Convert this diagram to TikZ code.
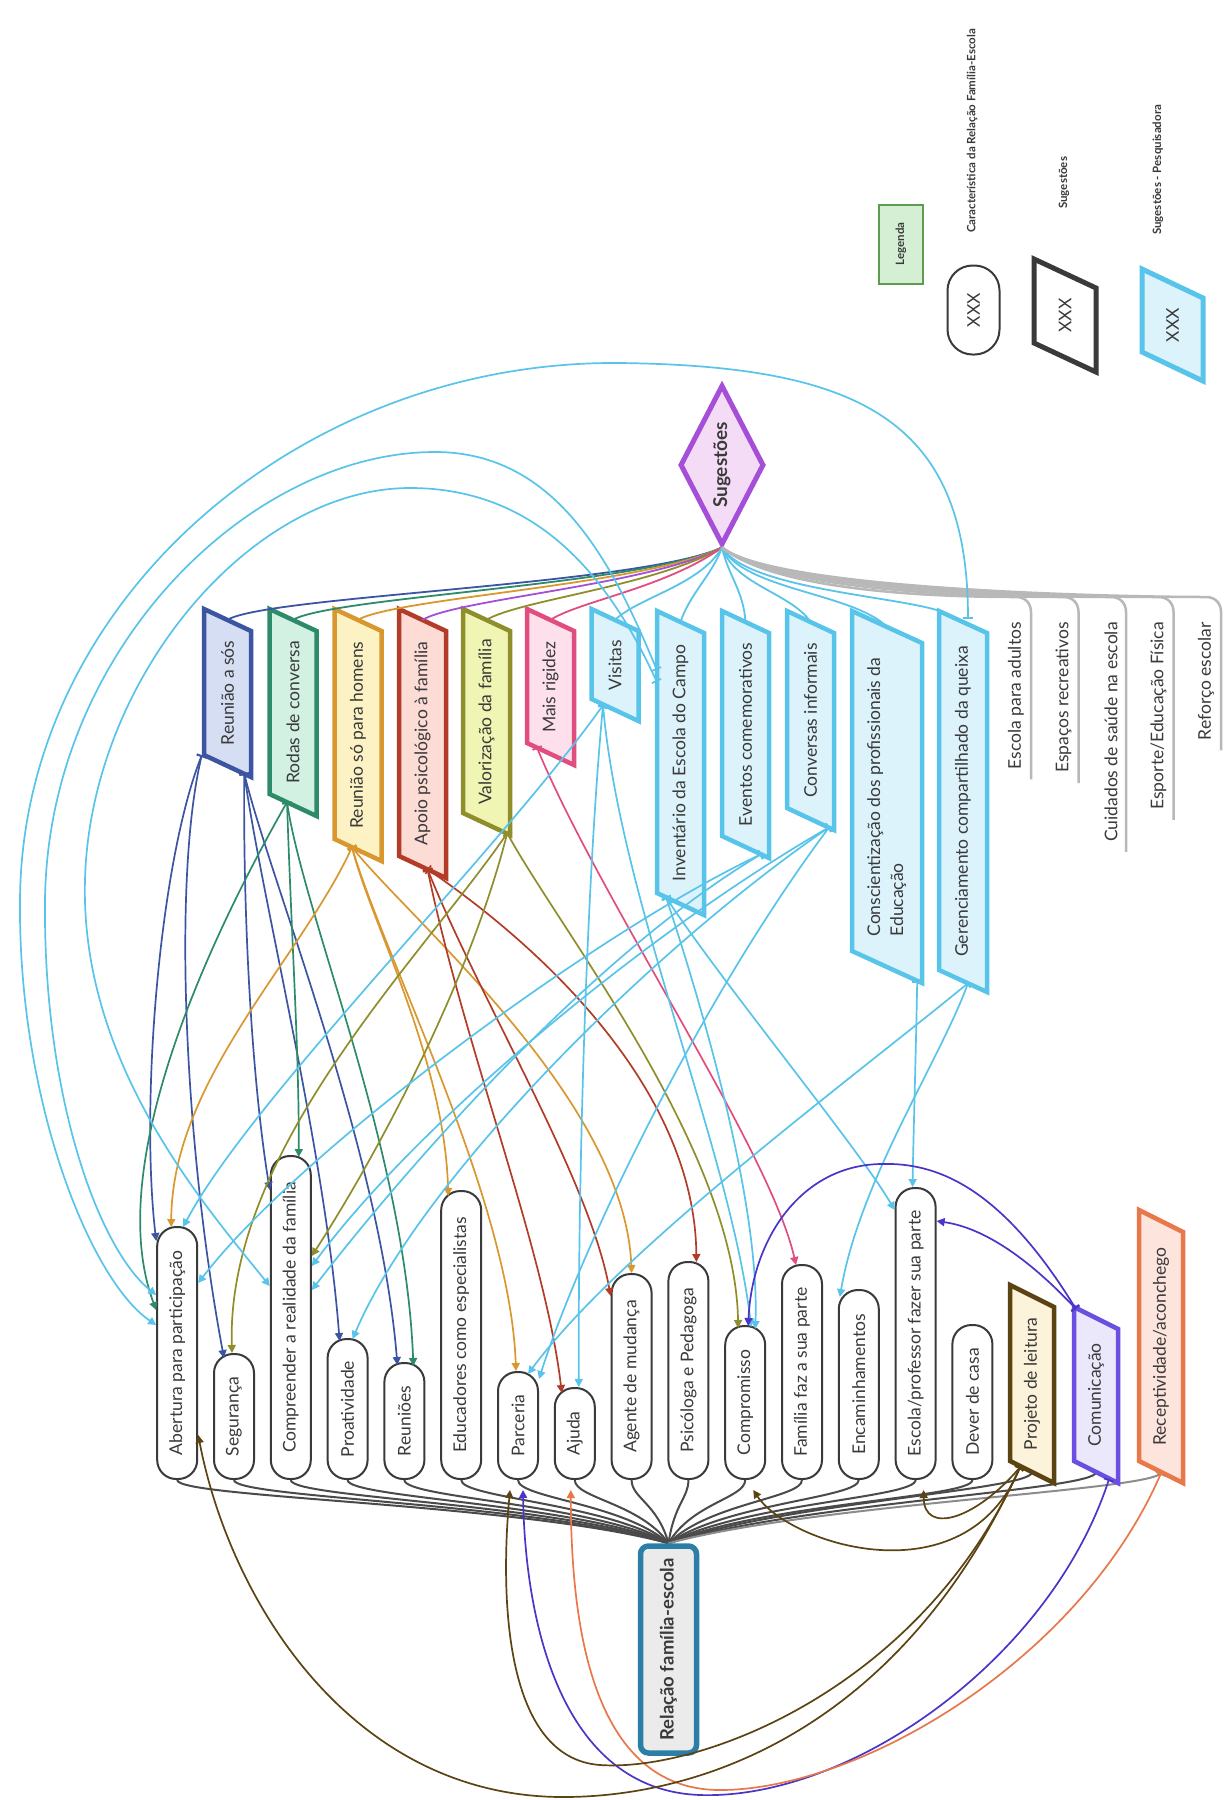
\documentclass[tikz,border=0pt]{standalone}
\usepackage{fontspec}
\setmainfont{Lato}
\usepackage{graphicx}
\usetikzlibrary{arrows.meta,calc,shapes.geometric}
\pgfdeclarelayer{bg}
\pgfsetlayers{bg,main}

\definecolor{cInk}{HTML}{3A3A3A}
\definecolor{cTree}{HTML}{4A4A4A}
\definecolor{cTreeLight}{HTML}{8C8C8C}
\definecolor{cSilver}{HTML}{B8B8B8}
\definecolor{cNavy}{HTML}{3B55A3}\definecolor{fNavy}{HTML}{D6DEF4}
\definecolor{cGreen}{HTML}{2E8B6A}\definecolor{fGreen}{HTML}{D2F1E3}
\definecolor{cAmber}{HTML}{D9982F}\definecolor{fAmber}{HTML}{FDF2C4}
\definecolor{cRust}{HTML}{B23C28}\definecolor{fRust}{HTML}{FCDCD5}
\definecolor{cOlive}{HTML}{8E8E2C}\definecolor{fOlive}{HTML}{F1F5B4}
\definecolor{cPink}{HTML}{E24D80}\definecolor{fPink}{HTML}{FDE0EB}
\definecolor{cSky}{HTML}{58C4EA}\definecolor{fSky}{HTML}{DDF3FC}
\definecolor{cBrown}{HTML}{5B4312}\definecolor{fBrown}{HTML}{FDF2DA}
\definecolor{cIndigo}{HTML}{6A4FE0}\definecolor{fIndigo}{HTML}{ECE8FC}
\definecolor{cPurple}{HTML}{4B35C8}
\definecolor{cCoral}{HTML}{E8774A}\definecolor{fCoral}{HTML}{FDE5DD}
\definecolor{cViolet}{HTML}{A54ED8}\definecolor{fViolet}{HTML}{F4DCF7}
\definecolor{cTeal}{HTML}{2B7EA6}\definecolor{fGrey}{HTML}{EBEBEB}
\definecolor{cLeaf}{HTML}{5D9B4F}\definecolor{fLeaf}{HTML}{D5EFD5}

% rounded characteristic node standing on the common base line
\newcommand\pill[4]{%
  \node[pill, minimum height={1480pt-#3pt}, anchor=south] (#1) at (#2,1480) {\rotatebox{90}{#4}};}
% slanted box: name, centre x, top, bottom, width, skew, colours, text
\newcommand\slab[8]{%
  \draw[line width=4.5pt, line join=miter, #7] ({#2-#5/2},#3) -- ({#2+#5/2},{#3+#6}) -- ({#2+#5/2},#4) -- ({#2-#5/2},{#4-#6}) -- cycle;
  \node[slabtxt, minimum width=#5pt, minimum height={#4pt-#3pt}] (#1) at ({#2},{(#3+#4)/2}) {\rotatebox{90}{#8}};}
% branch of the central tree
\newcommand\branch[2][cTree]{%
  \draw[tree, draw=#1] (#2) .. controls +(0,18) and ($(relacao.north)!0.3!(#2 |- relacao.north)+(0,-40)$) .. (relacao.north);}
% grey suggestion with its underline
\newcommand\grayitem[3]{%
  \node[plain, anchor=north] (#1) at (#2,622) {\rotatebox{90}{#3}};
  \draw[grayln] (sug.south) .. controls (775,590) and ($(#1.north)+(-90,-25)$) .. ($(#1.north)+(0,-25)$) .. controls +(10,0) and +(0,-8) .. ($(#1.north)+(15,-10)$) -- ($(#1.south)+(15,10)$);}

\begin{document}
\begin{tikzpicture}[x=1pt,y=-1pt,
  every node/.style={text=cInk},
  pill/.style={draw=cInk, line width=2pt, fill=white, rounded corners=19pt, minimum width=40pt, inner sep=0pt, font=\fontsize{17.5}{20}\selectfont},
  slabtxt/.style={inner sep=0pt, font=\fontsize{17.5}{23}\selectfont},
  plain/.style={inner sep=0pt, font=\fontsize{17.5}{20}\selectfont},
  legtxt/.style={inner sep=0pt, font=\bfseries\fontsize{11.5}{14}\selectfont},
  tree/.style={line width=2pt},
  slink/.style={line width=1.8pt, draw=#1},
  grayln/.style={line width=2.5pt, draw=cSilver},
  rel/.style={line width=1.7pt, draw=#1, {Bar[width=10pt]}-{Triangle[length=8pt,width=8pt]}},
]
\begin{pgfonlayer}{bg}
\fill[white] (0,0) rectangle (1224,1800);
\end{pgfonlayer}
\useasboundingbox (0,0) rectangle (1224,1800);

% ---------- central node ----------
\node[draw=cTeal, line width=5.5pt, fill=fGrey, rounded corners=8pt, minimum width=56pt, minimum height=207pt, inner sep=0pt,
      font=\bfseries\fontsize{18.5}{22}\selectfont] (relacao) at (668.5,1649.5) {\rotatebox{90}{Relação família-escola}};

% ---------- characteristics ----------
\pill{abertura}{177.2}{1228}{Abertura para participação}
\pill{seguranca}{234}{1355}{Segurança}
\pill{compreender}{290.8}{1157}{Compreender a realidade da família}
\pill{proatividade}{347.6}{1340}{Proatividade}
\pill{reunioes}{404.4}{1364}{Reuniões}
\pill{educadores}{461.2}{1192}{Educadores como especialistas}
\pill{parceria}{518}{1373}{Parceria}
\pill{ajuda}{574.8}{1389}{Ajuda}
\pill{agente}{631.6}{1275}{Agente de mudança}
\pill{psicologa}{688.4}{1263}{Psicóloga e Pedagoga}
\pill{compromisso}{745.2}{1327}{Compromisso}
\pill{familia}{802}{1266}{Família faz a sua parte}
\pill{encaminhamentos}{858.8}{1291}{Encaminhamentos}
\pill{escola}{915.6}{1189}{Escola/professor fazer sua parte}
\pill{dever}{972.4}{1326}{Dever de casa}
\slab{projeto}{1032}{1285}{1483}{44}{22}{draw=cBrown, fill=fBrown}{Projeto de leitura}
\slab{comunicacao}{1096}{1307}{1483}{44}{22}{draw=cIndigo, fill=fIndigo}{Comunicação}
\slab{receptividade}{1161}{1210}{1483}{44}{22}{draw=cCoral, fill=fCoral}{Receptividade/aconchego}

\coordinate (projeto-b) at ($(projeto.south)+(0,-11)$);
\coordinate (comunicacao-b) at ($(comunicacao.south)+(0,-11)$);
\coordinate (receptividade-b) at ($(receptividade.south)+(0,-11)$);

\begin{pgfonlayer}{bg}
\branch{abertura.south}
\branch{seguranca.south}
\branch{compreender.south}
\branch{proatividade.south}
\branch{reunioes.south}
\branch{educadores.south}
\branch{parceria.south}
\branch{ajuda.south}
\branch{agente.south}
\branch{psicologa.south}
\branch{compromisso.south}
\branch{familia.south}
\branch{encaminhamentos.south}
\branch{escola.south}
\branch{dever.south}
\branch{projeto-b}
\branch{comunicacao-b}
\branch[cTreeLight]{receptividade-b}
\end{pgfonlayer}

% ---------- suggestions ----------
\node[diamond, aspect=0.54, draw=cViolet, line width=5pt, fill=fViolet, minimum width=84pt, minimum height=160pt, inner sep=0pt,
      font=\bfseries\fontsize{19}{22}\selectfont] (sug) at (722,465) {\rotatebox{90}{Sugestões}};

\slab{reuniaososs}{227.5}{609}{777}{47}{22}{draw=cNavy, fill=fNavy}{Reunião a sós}
\slab{rodas}{293}{609}{816}{47}{22}{draw=cGreen, fill=fGreen}{Rodas de conversa}
\slab{homens}{358}{609}{861}{47}{22}{draw=cAmber, fill=fAmber}{Reunião só para homens}
\slab{apoio}{422.5}{609}{878}{47}{22}{draw=cRust, fill=fRust}{Apoio psicológico à família}
\slab{valorizacao}{486.5}{609}{835}{47}{22}{draw=cOlive, fill=fOlive}{Valorização da família}
\slab{rigidez}{550.5}{609}{765}{47}{22}{draw=cPink, fill=fPink}{Mais rigidez}
\slab{visitas}{615}{609}{721}{47}{22}{draw=cSky, fill=fSky}{Visitas}
\slab{inventario}{680.5}{611}{915}{47}{22}{draw=cSky, fill=fSky}{Inventário da Escola do Campo}
\slab{eventos}{745.5}{611}{858}{47}{22}{draw=cSky, fill=fSky}{Eventos comemorativos}
\slab{conversas}{810.5}{611}{830}{47}{22}{draw=cSky, fill=fSky}{Conversas informais}
\slab{conscientizacao}{887}{611}{983}{70}{32}{draw=cSky, fill=fSky}{\begin{tabular}{@{}l@{}}Conscientização dos profissionais da\\Educação\end{tabular}}
\slab{gerenciamento}{963}{611}{992}{48}{22}{draw=cSky, fill=fSky}{Gerenciamento compartilhado da queixa}

\draw[slink=cNavy] (sug.south) .. controls (640,585) and ($(reuniaososs.north)+(40,-13)$) .. ($(reuniaososs.north)+(0,11)$);
\draw[slink=cGreen] (sug.south) .. controls (640,585) and ($(rodas.north)+(40,-12)$) .. ($(rodas.north)+(0,11)$);
\draw[slink=cAmber] (sug.south) .. controls (645,585) and ($(homens.north)+(38,-11)$) .. ($(homens.north)+(0,11)$);
\draw[slink=cViolet] (sug.south) .. controls (650,585) and ($(apoio.north)+(36,-10)$) .. ($(apoio.north)+(0,11)$);
\draw[slink=cOlive] (sug.south) .. controls (655,586) and ($(valorizacao.north)+(34,-9)$) .. ($(valorizacao.north)+(0,11)$);
\draw[slink=cPink] (sug.south) .. controls (665,588) and ($(rigidez.north)+(30,-8)$) .. ($(rigidez.north)+(0,11)$);
\draw[slink=cSky] (sug.south) .. controls (700,585) and ($(visitas.north)+(25,-12)$) .. ($(visitas.north)+(0,11)$);
\draw[slink=cSky] (sug.south) .. controls (712,575) and ($(inventario.north)+(10,-18)$) .. ($(inventario.north)+(0,11)$);
\draw[slink=cSky] (sug.south) .. controls (728,575) and ($(eventos.north)+(-2,-20)$) .. ($(eventos.north)+(0,11)$);
\draw[slink=cSky] (sug.south) .. controls (735,585) and ($(conversas.north)+(-20,-18)$) .. ($(conversas.north)+(0,11)$);
\draw[slink=cSky] (sug.south) .. controls (745,590) and ($(conscientizacao.north)+(-35,-18)$) .. ($(conscientizacao.north)+(0,16)$);
\draw[slink=cSky] (sug.south) .. controls (750,592) and ($(gerenciamento.north)+(-45,-14)$) .. ($(gerenciamento.north)+(-14,4)$);

\grayitem{adultos}{1016}{Escola para adultos}
\grayitem{recreativos}{1063.5}{Espaços recreativos}
\grayitem{saude}{1111}{Cuidados de saúde na escola}
\grayitem{esporte}{1158.5}{Esporte/Educação Física}
\grayitem{reforco}{1206}{Reforço escolar}

% ---------- legend ----------
\node[draw=cLeaf, fill=fLeaf, line width=2pt, minimum width=44pt, minimum height=79pt, inner sep=0pt,
      font=\bfseries\fontsize{11.5}{13}\selectfont] (legenda) at (901,244) {\rotatebox{90}{Legenda}};
\node[pill, rounded corners=25pt, minimum width=52pt, minimum height=89pt] (legpill) at (973.5,310) {\rotatebox{90}{XXX}};
\slab{legsug}{1065}{259}{372}{62}{29}{draw=cInk, fill=white, line width=5pt}{XXX}
\slab{legpes}{1172.5}{269}{381}{61}{29}{draw=cSky, fill=fSky, line width=5pt}{XXX}
\node[legtxt, anchor=south] (leg-a) at (972,233) {\rotatebox{90}{Característica da Relação Família-Escola}};
\node[legtxt, anchor=south] (leg-b) at (1064,209) {\rotatebox{90}{Sugestões}};
\node[legtxt, anchor=south] (leg-c) at (1158,235) {\rotatebox{90}{Sugestões - Pesquisadora}};

% ---------- relation start points ----------
\coordinate (ras-l) at ($(reuniaososs.south west)+(-2,-22)$);
\coordinate (ras-r) at ($(reuniaososs.south east)+(-7,-4)$);
\coordinate (rd) at ($(rodas.south)+(-6,-14)$);
\coordinate (hm) at ($(homens.south)+(-6,-14)$);
\coordinate (ap) at ($(apoio.south)+(5,-9)$);
\coordinate (va) at ($(valorizacao.south east)+(-3,-2)$);
\coordinate (mr) at ($(rigidez.south west)+(10,-18)$);
\coordinate (vi) at ($(visitas.south)+(-12,-16)$);
\coordinate (iv-a) at ($(inventario.north west)+(0,59)$);
\coordinate (iv-b) at ($(inventario.north west)+(0,71)$);
\coordinate (iv) at ($(inventario.south)+(-14.5,-18)$);
\coordinate (ev) at ($(eventos.south east)+(-8,-4)$);
\coordinate (cv) at ($(conversas.south east)+(-5,-3)$);
\coordinate (cs) at ($(conscientizacao.south east)+(-5,-2)$);
\coordinate (gr) at ($(gerenciamento.south)+(5,-9)$);
\coordinate (gr-t) at ($(gerenciamento.north)+(5,8)$);
\coordinate (cm-t) at ($(comunicacao.north west)+(2,2)$);
\coordinate (cm-b) at ($(comunicacao.south)+(13,-4)$);
\coordinate (rc-b) at ($(receptividade.south)+(0,-10)$);
\coordinate (pj-b) at ($(projeto.south)+(-12,-16)$);

% Reunião a sós
\draw[rel=cNavy] (ras-l) .. controls (160,860) and (140,1100) .. ($(abertura.north west)+(0,15)$);
\draw[rel=cNavy] (ras-l) .. controls (172,880) and (185,1150) .. ($(seguranca.north)+(-10,5)$);
\draw[rel=cNavy] (ras-r) .. controls (243,950) and (255,1100) .. ($(compreender.north west)+(0,35)$);
\draw[rel=cNavy] (ras-r) .. controls (262,900) and (325,1150) .. ($(proatividade.north)+(-8,3)$);
\draw[rel=cNavy] (ras-r) .. controls (270,880) and (380,1150) .. ($(reunioes.north)+(-7,3)$);
% Rodas de conversa
\draw[rel=cGreen] (rd) .. controls (292,950) and (299,1050) .. ($(compreender.north)+(8,2)$);
\draw[rel=cGreen] (rd) .. controls (220,920) and (100,1160) .. ($(abertura.north west)+(0,84)$);
\draw[rel=cGreen] (rd) .. controls (305,920) and (405,1150) .. ($(reunioes.north)+(9,4)$);
% Reunião só para homens
\draw[rel=cAmber] (hm) .. controls (300,960) and (172,1080) .. ($(abertura.north)+(-6,1)$);
\draw[rel=cAmber] (hm) .. controls (370,920) and (445,1060) .. ($(educadores.north)+(-13,6)$);
\draw[rel=cAmber] (hm) .. controls (385,960) and (510,1200) .. ($(parceria.north)+(-2,0)$);
\draw[rel=cAmber] (hm) .. controls (410,920) and (625,1100) .. (agente.north);
% Apoio psicológico
\draw[rel=cRust] (ap) .. controls (465,1050) and (545,1250) .. ($(ajuda.north)+(-13,6)$);
\draw[rel=cRust] (ap) .. controls (480,1000) and (590,1180) .. ($(agente.north west)+(0,23)$);
\draw[rel=cRust] (ap) .. controls (560,960) and (695,1100) .. ($(psicologa.north)+(8,1)$);
% Valorização da família
\draw[rel=cOlive] (va) .. controls (420,960) and (226,1150) .. ($(seguranca.north)+(-2,0)$);
\draw[rel=cOlive] (va) .. controls (470,980) and (380,1150) .. ($(compreender.north east)+(0,101)$);
\draw[rel=cOlive] (va) .. controls (560,930) and (735,1150) .. ($(compromisso.north)+(-7,3)$);
% Mais rigidez
\draw[rel=cPink] (mr) .. controls (600,900) and (770,1150) .. ($(familia.north)+(-6,1)$);
% researcher suggestions
\draw[rel=cSky] (gr-t) .. controls (968,420) and (860,366) .. (620,363) .. controls (300,360) and (22,600) .. (20,900) .. controls (18,1100) and (90,1280) .. ($(abertura.north west)+(0,99)$);
\draw[rel=cSky] (iv-a) .. controls (615,570) and (560,452) .. (435,452) .. controls (250,452) and (48,650) .. (45,900) .. controls (43,1100) and (100,1250) .. ($(abertura.north west)+(0,69)$);
\draw[rel=cSky] (iv-b) .. controls (610,580) and (540,488) .. (410,488) .. controls (250,488) and (90,680) .. (85,880) .. controls (80,1060) and (200,1200) .. ($(compreender.north west)+(0,131)$);
\draw[rel=cSky] (vi) .. controls (500,850) and (250,1100) .. ($(abertura.north)+(6,1)$);
\draw[rel=cSky] (vi) .. controls (585,900) and (578,1200) .. ($(ajuda.north)+(4,0)$);
\draw[rel=cSky] (vi) .. controls (620,900) and (730,1150) .. ($(compromisso.north)+(6,2)$);
\draw[rel=cSky] (iv) .. controls (720,980) and (860,1150) .. ($(escola.north west)+(0,23)$);
\draw[rel=cSky] (iv) .. controls (700,1000) and (760,1200) .. ($(compromisso.north)+(10,4)$);
\draw[rel=cSky] (ev) .. controls (600,930) and (300,1150) .. ($(abertura.north east)+(0,57)$);
\draw[rel=cSky] (ev) .. controls (600,950) and (420,1150) .. ($(compreender.north east)+(0,135)$);
\draw[rel=cSky] (cv) .. controls (650,930) and (420,1120) .. ($(compreender.north east)+(0,111)$);
\draw[rel=cSky] (cv) .. controls (650,950) and (420,1180) .. ($(proatividade.north)+(5,1)$);
\draw[rel=cSky] (cv) .. controls (700,1000) and (580,1250) .. ($(parceria.north east)+(0,8)$);
\draw[rel=cSky] (cs) .. controls (916,1050) and (913,1150) .. ($(escola.north)+(-3,0)$);
\draw[rel=cSky] (gr) .. controls (940,1060) and (860,1180) .. ($(encaminhamentos.north west)+(2,8)$);
\draw[rel=cSky] (gr) .. controls (850,1080) and (620,1250) .. ($(parceria.north)+(10,3)$);
% Comunicação
\draw[rel=cPurple] (cm-t) .. controls (1030,1260) and (985,1228) .. ($(escola.north east)+(0,34)$);
\draw[rel=cPurple] (cm-t) .. controls (1000,1185) and (935,1162) .. (880,1164) .. controls (800,1166) and (752,1240) .. ($(compromisso.north)+(3,1)$);
\draw[rel=cPurple] (cm-b) .. controls (1050,1660) and (850,1800) .. (700,1795) .. controls (560,1790) and (525,1620) .. ($(parceria.south)+(5,10)$);
% Receptividade
\draw[rel=cCoral] (rc-b) .. controls (1080,1660) and (860,1790) .. (720,1790) .. controls (590,1790) and (571,1620) .. ($(ajuda.south)+(-4,10)$);
% Projeto de leitura
\draw[rel=cBrown] (pj-b) .. controls (975,1520) and (924,1535) .. ($(escola.south)+(8,10)$);
\draw[rel=cBrown] (pj-b) .. controls (965,1600) and (790,1545) .. ($(compromisso.south)+(8,10)$);
\draw[rel=cBrown] (pj-b) .. controls (920,1690) and (700,1772) .. (600,1765) .. controls (505,1758) and (500,1600) .. ($(parceria.south)+(-8,10)$);
\draw[rel=cBrown] (pj-b) .. controls (900,1730) and (700,1798) .. (560,1797) .. controls (350,1795) and (230,1600) .. ($(abertura.north east)+(0,209)$);
\end{tikzpicture}
\end{document}
